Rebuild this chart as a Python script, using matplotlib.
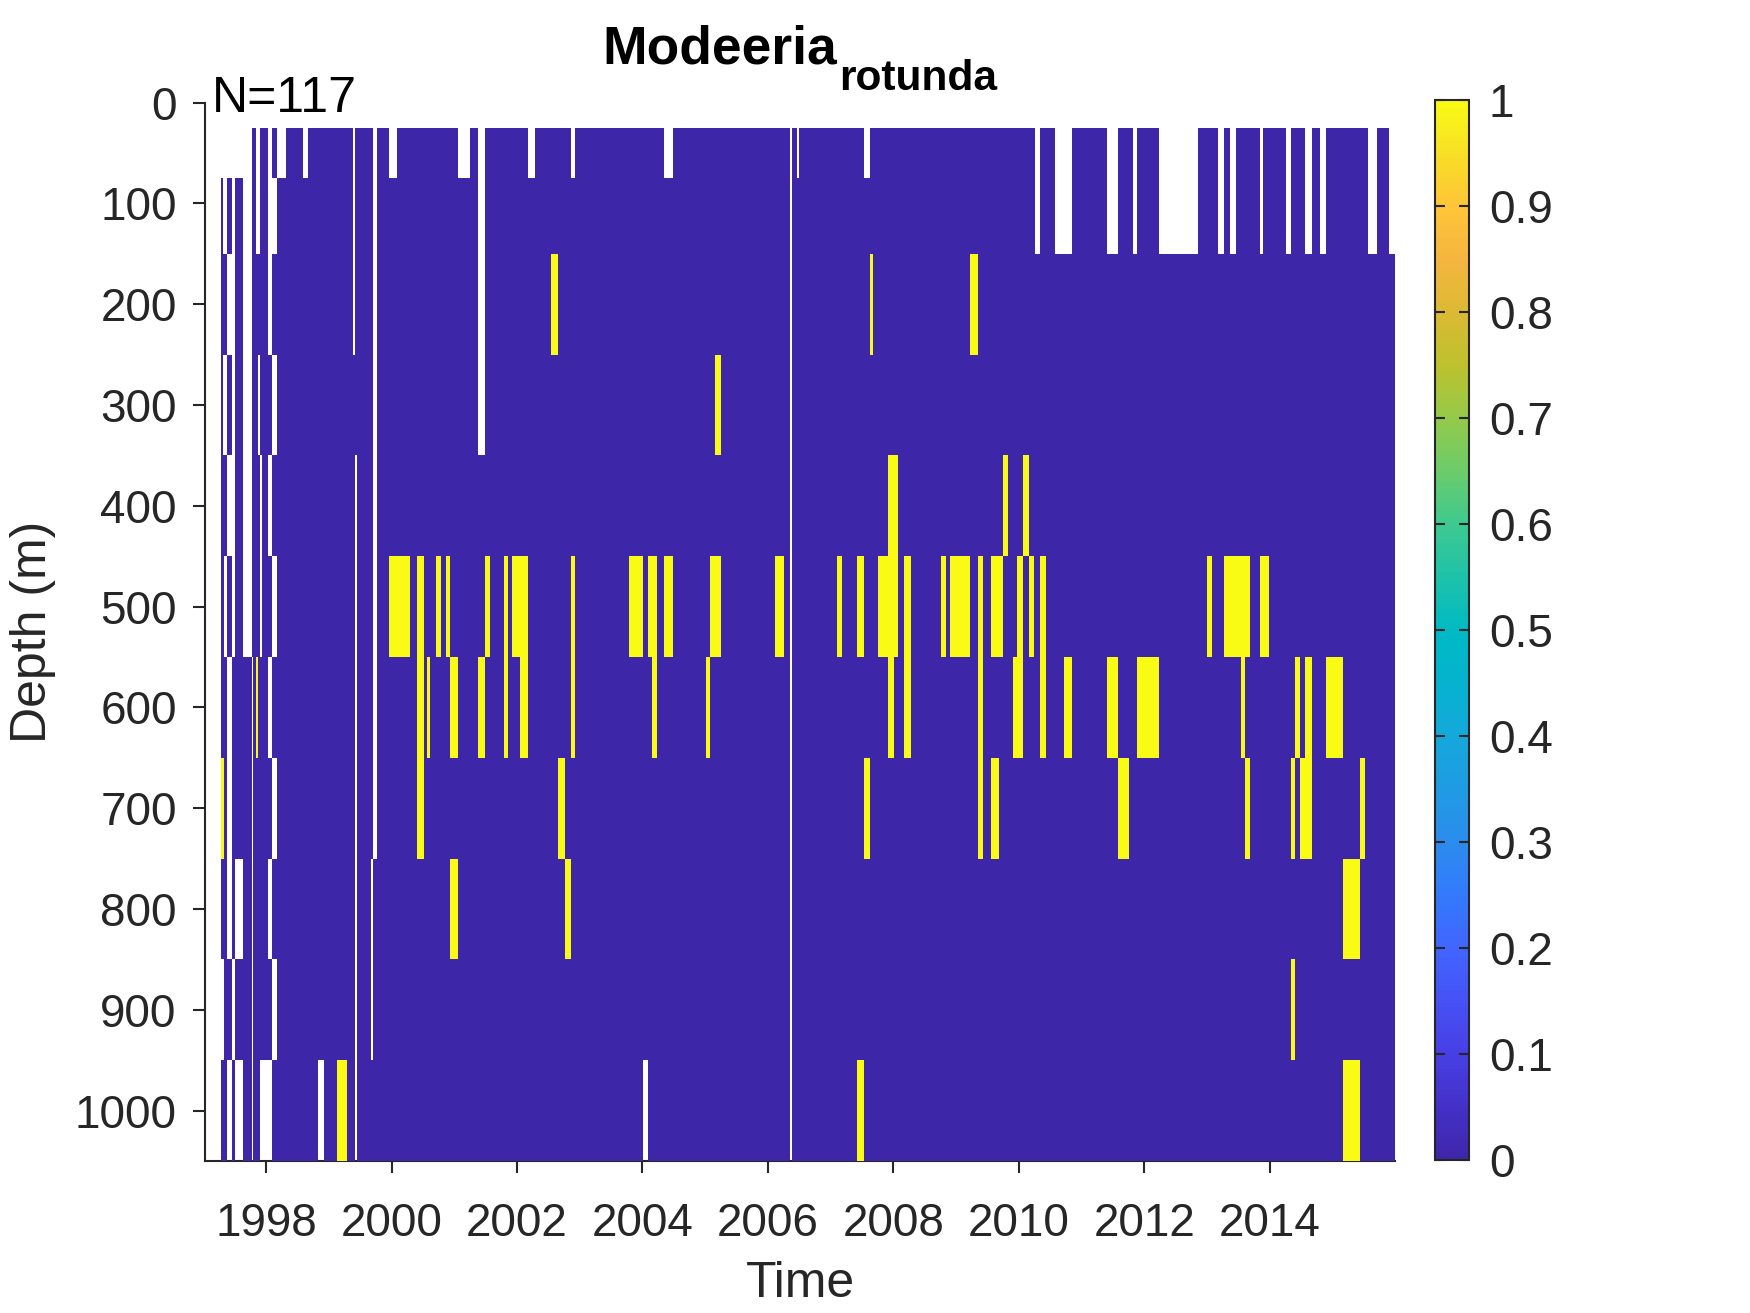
import numpy as np
import matplotlib
matplotlib.use("Agg")
import matplotlib.pyplot as plt
from matplotlib.colors import LinearSegmentedColormap

plt.rcParams['font.family'] = ['Liberation Sans', 'DejaVu Sans']

# ---------------- data ----------------
depth_edges = [25, 75, 150, 250, 350, 450, 550, 650, 750, 850, 950, 1050]
depth_ticks = [0, 100, 200, 300, 400, 500, 600, 700, 800, 900, 1000]
year_ticks = [1998, 2000, 2002, 2004, 2006, 2008, 2010, 2012, 2014]
cbar_ticks = [0, 0.1, 0.2, 0.3, 0.4, 0.5, 0.6, 0.7, 0.8, 0.9, 1]
time_range = (1997.026, 2016.0)
n_samples = 117

# not-sampled (NaN) periods per depth bin, decimal years
gaps_50 = [(1997.026, 1997.780), (1997.839, 1997.903), (1998.035, 1998.099), (1998.169, 1998.317),
           (1998.583, 1998.663), (1999.391, 1999.417), (1999.699, 1999.774), (1999.960, 2000.087),
           (2001.065, 2001.251), (2001.384, 2001.490), (2002.182, 2002.288), (2002.862, 2002.926),
           (2004.345, 2004.483), (2006.350, 2006.385), (2006.466, 2006.498), (2007.539, 2007.630),
           (2010.261, 2010.341), (2010.580, 2010.846), (2011.414, 2011.590), (2011.818, 2011.893),
           (2012.238, 2012.866), (2013.185, 2013.275), (2013.371, 2013.467), (2013.849, 2013.902),
           (2014.264, 2014.343), (2014.567, 2014.684), (2014.806, 2014.896), (2015.577, 2015.720),
           (2015.906, 2016.0)]
gaps_100 = [(1997.026, 1997.281), (1997.318, 1997.371), (1997.451, 1997.504), (1997.627, 1997.780),
            (1997.839, 1997.903), (1998.035, 1998.169), (1999.391, 1999.417), (1999.699, 1999.774),
            (2001.384, 2001.490), (2006.350, 2006.385),
            (2010.261, 2010.341), (2010.580, 2010.846), (2011.414, 2011.590), (2011.818, 2011.893),
            (2012.238, 2012.866), (2013.185, 2013.275), (2013.371, 2013.467), (2013.849, 2013.902),
            (2014.264, 2014.343), (2014.567, 2014.684), (2014.806, 2014.896), (2015.577, 2015.720),
            (2015.906, 2016.0)]
gaps_200 = [(1997.026, 1997.281), (1997.371, 1997.504), (1997.627, 1997.780), (1998.035, 1998.089),
            (1999.391, 1999.417), (1999.699, 1999.774), (2001.384, 2001.490), (2006.350, 2006.385)]
gaps_300 = [(1997.026, 1997.281), (1997.318, 1997.371), (1997.451, 1997.504), (1997.627, 1997.780),
            (1997.876, 1997.903), (1998.089, 1998.178), (1999.699, 1999.774), (2001.384, 2001.490),
            (2006.350, 2006.385)]
gaps_400 = [(1997.026, 1997.281), (1997.371, 1997.504), (1997.627, 1997.780), (1997.903, 1997.930),
            (1998.035, 1998.089), (1999.417, 1999.449), (1999.699, 1999.774), (2006.350, 2006.385)]
gaps_500 = [(1997.026, 1997.281), (1997.329, 1997.371), (1997.461, 1997.504), (1997.627, 1997.780),
            (1997.903, 1997.930), (1998.089, 1998.178), (1999.417, 1999.449), (1999.699, 1999.774),
            (2006.350, 2006.385)]
gaps_600 = [(1997.026, 1997.281), (1997.371, 1997.461), (1997.780, 1997.796), (1998.035, 1998.089),
            (1999.417, 1999.449), (1999.699, 1999.774), (2006.350, 2006.385)]
gaps_700 = [(1997.026, 1997.281), (1997.371, 1997.461), (1997.780, 1997.796), (1998.089, 1998.178),
            (1999.417, 1999.449), (1999.699, 1999.774), (2006.350, 2006.385)]
gaps_800 = [(1997.026, 1997.281), (1997.371, 1997.461), (1997.504, 1997.627), (1997.780, 1997.796),
            (1998.035, 1998.089), (1999.417, 1999.449), (1999.667, 1999.699), (2006.350, 2006.385)]
gaps_900 = [(1997.026, 1997.329), (1997.461, 1997.504), (1997.780, 1997.796), (1998.089, 1998.178),
            (1999.417, 1999.449), (1999.667, 1999.699), (2006.350, 2006.385)]
gaps_1000 = [(1997.026, 1997.281), (1997.371, 1997.461), (1997.504, 1997.627), (1997.780, 1997.796),
             (1997.903, 1998.099), (1998.822, 1998.923), (1999.417, 1999.449), (2004.015, 2004.084),
             (2006.350, 2006.385)]

# presence (value 1) periods per depth bin
hits_50 = []
hits_100 = []
hits_200 = [(2002.543, 2002.660), (2007.630, 2007.683), (2009.225, 2009.358)]
hits_300 = [(2005.158, 2005.254)]
hits_400 = [(2007.912, 2008.071), (2009.756, 2009.825), (2010.075, 2010.165)]
hits_500 = [(1999.960, 2000.295), (2000.401, 2000.518), (2000.704, 2000.789), (2000.863, 2000.932),
            (2001.490, 2001.570), (2001.793, 2001.863), (2001.916, 2002.171), (2002.862, 2002.926),
            (2003.787, 2004.005), (2004.095, 2004.228), (2004.345, 2004.483), (2005.078, 2005.254),
            (2006.115, 2006.259), (2007.098, 2007.189), (2007.417, 2007.534), (2007.752, 2008.071),
            (2008.172, 2008.278), (2008.757, 2008.837), (2008.906, 2009.225), (2009.358, 2009.427),
            (2009.554, 2009.756), (2009.969, 2010.064), (2010.165, 2010.250), (2010.341, 2010.431),
            (2012.999, 2013.078), (2013.275, 2013.690), (2013.849, 2013.993)]
hits_600 = [(1997.839, 1997.876), (2000.401, 2000.518), (2000.560, 2000.613), (2000.932, 2001.065),
            (2001.384, 2001.490), (2001.793, 2001.863), (2002.049, 2002.171), (2002.862, 2002.926),
            (2004.159, 2004.228), (2005.015, 2005.078), (2007.912, 2008.013), (2008.172, 2008.278),
            (2009.358, 2009.427), (2009.905, 2010.064), (2010.341, 2010.431), (2010.723, 2010.846),
            (2011.404, 2011.590), (2011.893, 2012.238), (2013.541, 2013.610), (2014.407, 2014.486),
            (2014.567, 2014.673), (2014.901, 2015.167)]
hits_700 = [(1997.281, 1997.329), (2000.401, 2000.518), (2002.649, 2002.766), (2007.534, 2007.630),
            (2009.358, 2009.427), (2009.554, 2009.687), (2011.590, 2011.760), (2013.610, 2013.690),
            (2014.343, 2014.407), (2014.486, 2014.673), (2015.444, 2015.523)]
hits_800 = [(2000.932, 2001.065), (2002.766, 2002.862), (2015.167, 2015.444)]
hits_900 = [(2014.343, 2014.407)]
hits_1000 = [(1999.136, 1999.285), (2007.417, 2007.534), (2015.167, 2015.444)]

gap_rows = [gaps_50, gaps_100, gaps_200, gaps_300, gaps_400, gaps_500,
            gaps_600, gaps_700, gaps_800, gaps_900, gaps_1000]
hit_rows = [hits_50, hits_100, hits_200, hits_300, hits_400, hits_500,
            hits_600, hits_700, hits_800, hits_900, hits_1000]

# ---------------- grid from intervals ----------------
ends = {time_range[0], time_range[1]}
for rows in (gap_rows, hit_rows):
    for row in rows:
        for a, b in row:
            ends.update((a, b))
t_edges = np.array(sorted(ends))
t_mid = 0.5 * (t_edges[:-1] + t_edges[1:])
Z = np.zeros((len(depth_edges) - 1, len(t_mid)))
for i, (g, h) in enumerate(zip(gap_rows, hit_rows)):
    for a, b in h:
        Z[i, (t_mid > a) & (t_mid < b)] = 1.0
    for a, b in g:
        Z[i, (t_mid > a) & (t_mid < b)] = np.nan

# parula-like colormap
parula_pts = [
    (0.00, (0.243, 0.150, 0.660)), (0.05, (0.270, 0.190, 0.790)),
    (0.10, (0.280, 0.250, 0.900)), (0.15, (0.275, 0.320, 0.965)),
    (0.20, (0.255, 0.400, 0.995)), (0.25, (0.200, 0.480, 0.990)),
    (0.30, (0.170, 0.550, 0.930)), (0.35, (0.120, 0.610, 0.890)),
    (0.40, (0.080, 0.660, 0.860)), (0.45, (0.020, 0.700, 0.810)),
    (0.50, (0.000, 0.730, 0.770)), (0.55, (0.120, 0.760, 0.660)),
    (0.60, (0.240, 0.790, 0.560)), (0.65, (0.420, 0.800, 0.420)),
    (0.70, (0.580, 0.790, 0.290)), (0.75, (0.740, 0.760, 0.180)),
    (0.80, (0.860, 0.730, 0.200)), (0.85, (0.960, 0.710, 0.250)),
    (0.90, (1.000, 0.770, 0.220)), (0.95, (0.970, 0.870, 0.150)),
    (1.00, (0.977, 0.984, 0.081))]
parula = LinearSegmentedColormap.from_list('parula', parula_pts, N=256)

# ---------------- figure ----------------
W, H = 1750, 1313
fig = plt.figure(figsize=(W / 300, H / 300), dpi=300)
ax = fig.add_axes([205 / W, 1 - 1161 / H, 1190 / W, (1161 - 102.5) / H])
mesh = ax.pcolormesh(t_edges, depth_edges, np.ma.masked_invalid(Z), cmap=parula,
                     vmin=0, vmax=1, shading='flat', antialiased=False, linewidth=0, zorder=1)

grey = (0.15, 0.15, 0.15)
ax.set_xlim(*time_range)
ax.set_ylim(1050, 0)
ax.set_yticks(depth_ticks)
ax.set_xticks(year_ticks)
ax.set_xticklabels([str(y) for y in year_ticks])
ax.set_yticklabels([str(d) for d in depth_ticks])
for s in ('top', 'right'):
    ax.spines[s].set_visible(False)
for s in ('left', 'bottom'):
    ax.spines[s].set_color(grey)
    ax.spines[s].set_linewidth(0.5)
    ax.spines[s].set_zorder(0.5)
ax.tick_params(axis='both', direction='out', length=2.8, width=0.5, color=grey,
               labelcolor=grey, labelsize=11)
ax.tick_params(axis='x', pad=7)
ax.tick_params(axis='y', pad=4)

ax.set_xlabel('Time', fontsize=12, color=grey)
ax.xaxis.set_label_coords(0.5, (1161 - 1297) / (1161 - 102.5))
ax.xaxis.label.set_verticalalignment('baseline')
ax.set_ylabel('Depth (m)', fontsize=12, color=grey)
ax.yaxis.set_label_coords((33 - 205) / 1190, 0.5)
ax.yaxis.label.set_verticalalignment('center')

# colorbar
cax = fig.add_axes([1435 / W, 1 - 1160 / H, 34 / W, 1060 / H])
cb = fig.colorbar(mesh, cax=cax, ticks=cbar_ticks)
cb.ax.set_yticklabels(['%g' % t for t in cbar_ticks])
cb.outline.set_edgecolor(grey)
cb.outline.set_linewidth(0.5)
cax.tick_params(axis='y', direction='in', left=True, right=True, length=2.4, width=0.5,
                color=grey, labelcolor=grey, labelsize=11, pad=4.8)

# title and annotation
fig.text(602.7 / W, 1 - 63.3 / H, 'Modeeria', fontsize=12.8, fontweight='bold',
         ha='left', va='baseline', color='black')
fig.text(839 / W, 1 - 90 / H, 'rotunda', fontsize=10.2, fontweight='bold',
         ha='left', va='baseline', color='black')
fig.text(212 / W, 1 - 111.7 / H, 'N=%d' % n_samples, fontsize=12,
         ha='left', va='baseline', color='black')

fig.savefig('out.png', dpi=300)
